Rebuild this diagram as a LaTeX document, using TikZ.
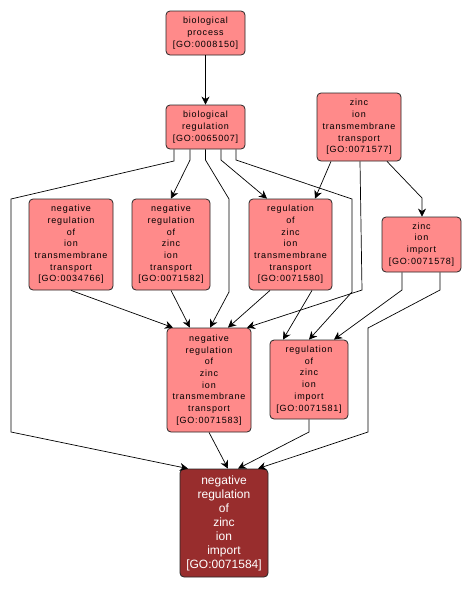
\documentclass[tikz,border=0pt]{standalone}
\usepackage{fontspec}
\setmainfont{Liberation Sans}
\newfontfamily\lightfont[LetterSpace=9]{Liberation Sans}
\usetikzlibrary{arrows.meta}
\definecolor{lightfill}{RGB}{255,138,138}
\definecolor{darkfill}{RGB}{152,45,45}
\tikzset{
  goterm/.style={draw=black!85, line width=0.8pt, rounded corners=4pt, fill=lightfill, align=center,
    inner sep=0pt, font=\lightfont\fontsize{9}{11.7}\selectfont, text=black},
  goterm dark/.style={goterm, fill=darkfill, text=white, font=\fontsize{12}{14}\selectfont},
  edge/.style={draw=black, line width=0.7pt, -{Stealth[length=8pt,width=8pt,inset=2.5pt]}},
}
\begin{document}
\begin{tikzpicture}[x=1pt,y=-1pt]
\useasboundingbox (0,0) rectangle (470,590);
\node[goterm, minimum width=79pt, minimum height=44pt] (bp) at (205.5,33) {biological\\process\\{[GO:0008150]}};
\node[goterm, minimum width=79pt, minimum height=44pt] (br) at (205.5,127) {biological\\regulation\\{[GO:0065007]}};
\node[goterm, minimum width=84pt, minimum height=68pt] (zitt) at (359,127) {zinc\\ion\\transmembrane\\transport\\{[GO:0071577]}};
\node[goterm, minimum width=84pt, minimum height=91pt] (nritt) at (71,244.5) {negative\\regulation\\of\\ion\\transmembrane\\transport\\{[GO:0034766]}};
\node[goterm, minimum width=78pt, minimum height=91pt] (nrzit) at (171,244.5) {negative\\regulation\\of\\zinc\\ion\\transport\\{[GO:0071582]}};
\node[goterm, minimum width=83pt, minimum height=91pt] (rzitt) at (290.5,244.5) {regulation\\of\\zinc\\ion\\transmembrane\\transport\\{[GO:0071580]}};
\node[goterm, minimum width=79pt, minimum height=55pt] (zii) at (421.5,244.5) {zinc\\ion\\import\\{[GO:0071578]}};
\node[goterm, minimum width=84pt, minimum height=104pt] (nrzitt) at (209,380) {negative\\regulation\\of\\zinc\\ion\\transmembrane\\transport\\{[GO:0071583]}};
\node[goterm, minimum width=78pt, minimum height=79pt] (rzii) at (309,379.5) {regulation\\of\\zinc\\ion\\import\\{[GO:0071581]}};
\node[goterm dark, minimum width=88pt, minimum height=108pt] (nrzii) at (224,523) {negative\\regulation\\of\\zinc\\ion\\import\\{[GO:0071584]}};

\draw[edge] (bp.south) -- (br.north);
\draw[edge] ([xshift=-31.5pt]br.south) -- (174,161) -- (11,199) -- (11,432) -- ([xshift=-36pt]nrzii.north);
\draw[edge] ([xshift=-15.5pt]br.south) -- (190,160) -- (nrzit.north);
\draw[edge] (br.south) -- (205.5,160) -- (229,199) -- (229,292) -- ([xshift=1pt]nrzitt.north);
\draw[edge] ([xshift=15.5pt]br.south) -- (221,160) -- ([xshift=-23.5pt]rzitt.north);
\draw[edge] ([xshift=30.5pt]br.south) -- (236,160) -- (352,199) -- (352,292) -- (rzii.north);
\draw[edge] ([xshift=-28pt]zitt.south) -- ([xshift=24.5pt]rzitt.north);
\draw[edge] ([xshift=1pt]zitt.south) -- (362,290) -- ([xshift=38pt]nrzitt.north);
\draw[edge] ([xshift=28pt]zitt.south) -- (422,198) -- ([xshift=0.5pt]zii.north);
\draw[edge] ([xshift=-19.5pt]zii.south) -- (402,290) -- ([xshift=25pt]rzii.north);
\draw[edge] ([xshift=18.5pt]zii.south) -- (440,290) -- (368,328) -- (368,432) -- ([xshift=34pt]nrzii.north);
\draw[edge] (nritt.south) -- ([xshift=-36pt]nrzitt.north);
\draw[edge] (nrzit.south) -- ([xshift=-19pt]nrzitt.north);
\draw[edge] ([xshift=-20.5pt]rzitt.south) -- ([xshift=19pt]nrzitt.north);
\draw[edge] ([xshift=21.5pt]rzitt.south) -- ([xshift=-26pt]rzii.north);
\draw[edge] (nrzitt.south) -- ([xshift=4pt]nrzii.north);
\draw[edge] (rzii.south) -- (309,432) -- ([xshift=14pt]nrzii.north);
\end{tikzpicture}
\end{document}
